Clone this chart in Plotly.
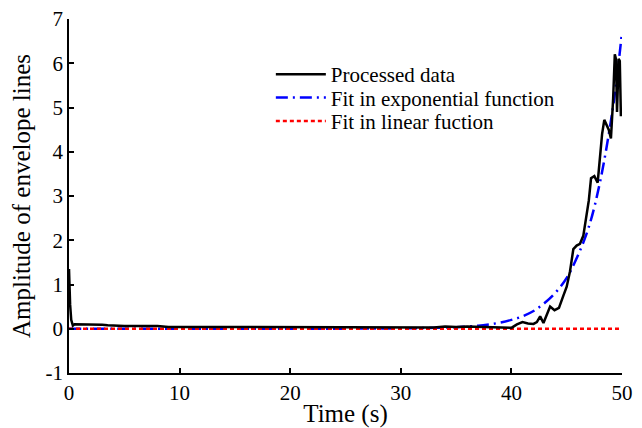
import plotly.graph_objects as go

# Processed data
t_data = [0, 0.05, 0.1, 0.2, 0.35, 0.5, 1, 1.5, 2, 2.5, 3, 3.5, 4, 4.5, 5, 6, 7, 7.5, 8, 8.5, 9, 10,
          12, 14, 16, 18, 18.5, 19, 20, 22, 24, 24.5, 25, 26, 28, 30, 31, 32, 33, 34, 34.5, 35, 36,
          37, 38, 39, 39.5, 40, 40.5, 41, 41.5, 42, 42.3, 42.6, 42.9, 43.2, 43.5, 43.9, 44.3, 44.7,
          45.0, 45.3, 45.6, 45.9, 46.2, 46.5, 46.8, 47.0, 47.2, 47.5, 47.8, 48.0, 48.2, 48.4, 48.6,
          48.8, 49.0, 49.2, 49.35, 49.45, 49.55, 49.62, 49.7, 49.8, 49.9]
y_data = [1.35, 0.9, 0.55, 0.2, 0.07, 0.1, 0.1, 0.09, 0.1, 0.1, 0.09, 0.08, 0.07, 0.07, 0.06, 0.06,
          0.06, 0.07, 0.06, 0.05, 0.04, 0.04, 0.04, 0.03, 0.03, 0.03, 0.04, 0.03, 0.03, 0.03, 0.03,
          0.04, 0.03, 0.03, 0.03, 0.03, 0.04, 0.03, 0.03, 0.05, 0.04, 0.04, 0.05, 0.04, 0.04, 0.03,
          0.02, 0.02, 0.1, 0.15, 0.12, 0.11, 0.15, 0.28, 0.13, 0.3, 0.5, 0.42, 0.47, 0.75, 0.95, 1.3,
          1.8, 1.88, 1.92, 2.1, 2.6, 2.9, 3.4, 3.45, 3.3, 3.8, 4.4, 4.72, 4.6, 4.5, 4.3, 5.2, 6.2,
          6.1, 4.9, 5.4, 6.1, 6.05, 4.8]

# Exponential fit
t_exp = [0, 5, 10, 15, 20, 25, 30, 33, 35, 37, 38, 39, 40, 41, 42, 43, 44, 45, 46, 47, 48, 49, 49.5, 50]
y_exp = [0, 0, 0, 0, 0, 0.002, 0.01, 0.02, 0.035, 0.07, 0.1, 0.14, 0.2, 0.28, 0.4, 0.58, 0.82, 1.15,
         1.65, 2.3, 3.3, 4.7, 5.6, 6.7]

# Linear fit
t_lin = [0, 50]
y_lin = [0, 0]

x_ticks = [0, 10, 20, 30, 40, 50]
y_ticks = [-1, 0, 1, 2, 3, 4, 5, 6, 7]

FONT = "Liberation Serif"

fig = go.Figure()
fig.add_trace(go.Scatter(x=t_exp, y=y_exp, mode="lines", name="Fit in exponential function",
                         line=dict(color="#0000ff", width=2.5, dash="12px,5px,2px,5px"),
                         line_shape="spline", legend="legend2"))
fig.add_trace(go.Scatter(x=t_lin, y=y_lin, mode="lines", name="Fit in linear fuction",
                         line=dict(color="#ff0000", width=2.5, dash="4px,3px"), legend="legend3"))
fig.add_trace(go.Scatter(x=t_data, y=y_data, mode="lines", name="Processed data",
                         line=dict(color="black", width=2.5), legend="legend"))

leg_common = dict(x=0.365, xanchor="left", yanchor="middle", bgcolor="rgba(0,0,0,0)",
                  borderwidth=0, font=dict(size=21, family=FONT, color="black"), itemwidth=50)

fig.update_layout(
    width=642, height=428,
    margin=dict(l=69, r=20, t=19, b=55, autoexpand=False),
    paper_bgcolor="white", plot_bgcolor="white",
    font=dict(family=FONT, color="black", size=20),
    showlegend=True,
    legend=dict(y=0.843, **leg_common),
    legend2=dict(y=0.777, **leg_common),
    legend3=dict(y=0.711, **leg_common),
)
fig.update_xaxes(range=[0, 50], tickvals=x_ticks, ticktext=[str(v) for v in x_ticks],
                 showline=True, linecolor="black", linewidth=1.5, ticks="inside", ticklen=5,
                 tickcolor="black", tickwidth=1.5, showgrid=False, zeroline=False, automargin=False,
                 tickfont=dict(size=21, family=FONT),
                 title=dict(text="Time (s)", font=dict(size=25, family=FONT), standoff=2))
fig.update_yaxes(range=[-1, 7], tickvals=y_ticks, ticktext=[str(v) for v in y_ticks],
                 showline=True, linecolor="black", linewidth=1.5, ticks="inside", ticklen=5,
                 tickcolor="black", tickwidth=1.5, showgrid=False, zeroline=False, automargin=False,
                 tickfont=dict(size=21, family=FONT),
                 title=dict(text="Amplitude of envelope lines", font=dict(size=25, family=FONT),
                            standoff=8))

fig.write_html("out.html")
